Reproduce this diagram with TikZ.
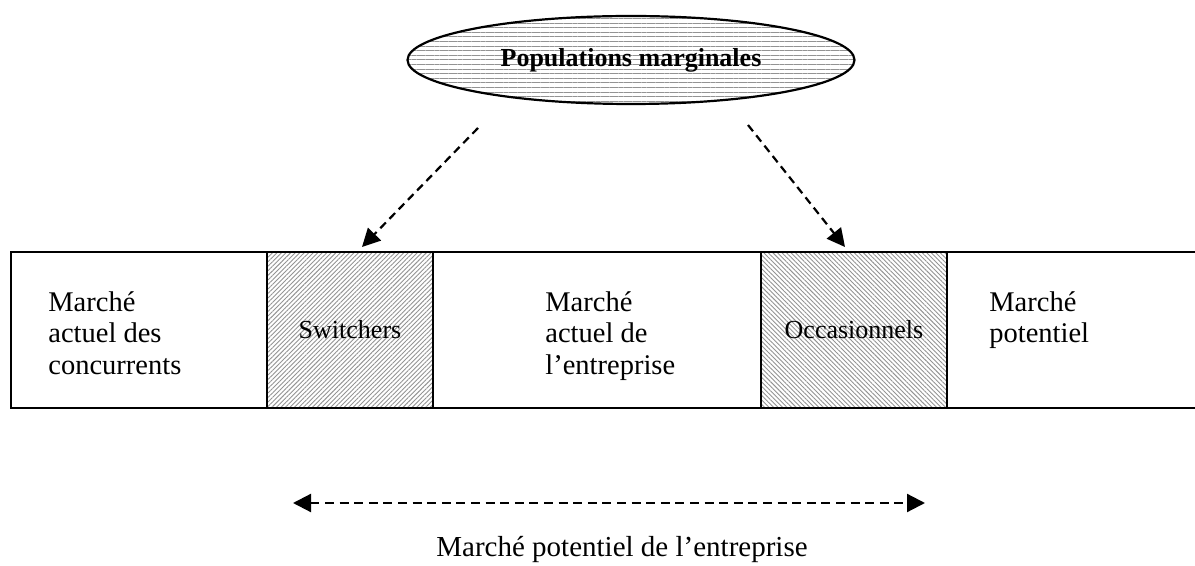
\documentclass[tikz,border=0pt]{standalone}
\usepackage{fontspec}
\setmainfont{Liberation Serif}
\usetikzlibrary{shapes.geometric,arrows.meta,patterns.meta}
\begin{document}
\begin{tikzpicture}[x=0.5pt,y=-0.5pt,
  frame/.style={line width=1.1pt},
  txt/.style={font=\fontsize{14.25}{15.75}\selectfont, align=left, inner sep=0pt, anchor=north west},
  cell/.style={draw, line width=1.1pt, inner sep=0pt, font=\fontsize{13}{15}\selectfont, pattern color=gray!85},
  hatchNE/.style={cell, pattern={Lines[angle=45,distance=1.6pt,line width=0.45pt]}},
  hatchNW/.style={cell, pattern={Lines[angle=-45,distance=1.6pt,line width=0.45pt]}},
  dasharrow/.style={line width=1.1pt, dash pattern=on 4pt off 2.6pt, -{Triangle[length=9pt,width=9pt]}},
  dasharrows/.style={line width=1.1pt, dash pattern=on 4.5pt off 2.8pt, {Triangle[length=9pt,width=9pt]}-{Triangle[length=9pt,width=9pt]}}
]
\useasboundingbox (0,0) rectangle (1195,566);
% ellipse
\node[ellipse, draw, line width=1.1pt, minimum width=223.5pt, minimum height=44pt, inner sep=0pt,
      pattern={Lines[angle=0,distance=2.3pt,line width=0.5pt]}, pattern color=gray!85,
      font=\bfseries\fontsize{13}{15}\selectfont] (pop) at (631,60) {Populations marginales};
% frame
\draw[frame] (1195,252) -- (11,252) -- (11,408) -- (1195,408);
\node[hatchNE, minimum width=83pt, minimum height=78pt] (sw) at (350,330) {Switchers};
\node[hatchNW, minimum width=93pt, minimum height=78pt] (occ) at (854,330) {Occasionnels};
% texts
\node[txt] (conc) at (48,291) {Marché\\actuel des\\concurrents};
\node[txt] (ent) at (545,291) {Marché\\actuel de\\l’entreprise};
\node[txt] (pot) at (989,291) {Marché\\potentiel};
% arrows
\coordinate (a1s) at (478,128);
\coordinate (a1e) at (362,247);
\coordinate (a2s) at (748,125);
\coordinate (a2e) at (845,247);
\draw[dasharrow] (a1s) -- (a1e);
\draw[dasharrow] (a2s) -- (a2e);
\coordinate (bl) at (293,503);
\coordinate (br) at (925,503);
\draw[dasharrows] (bl) -- (br);
\node[font=\fontsize{14.5}{16}\selectfont, anchor=base, inner sep=0pt] (mpe) at (622,557) {Marché potentiel de l’entreprise};
\end{tikzpicture}
\end{document}
